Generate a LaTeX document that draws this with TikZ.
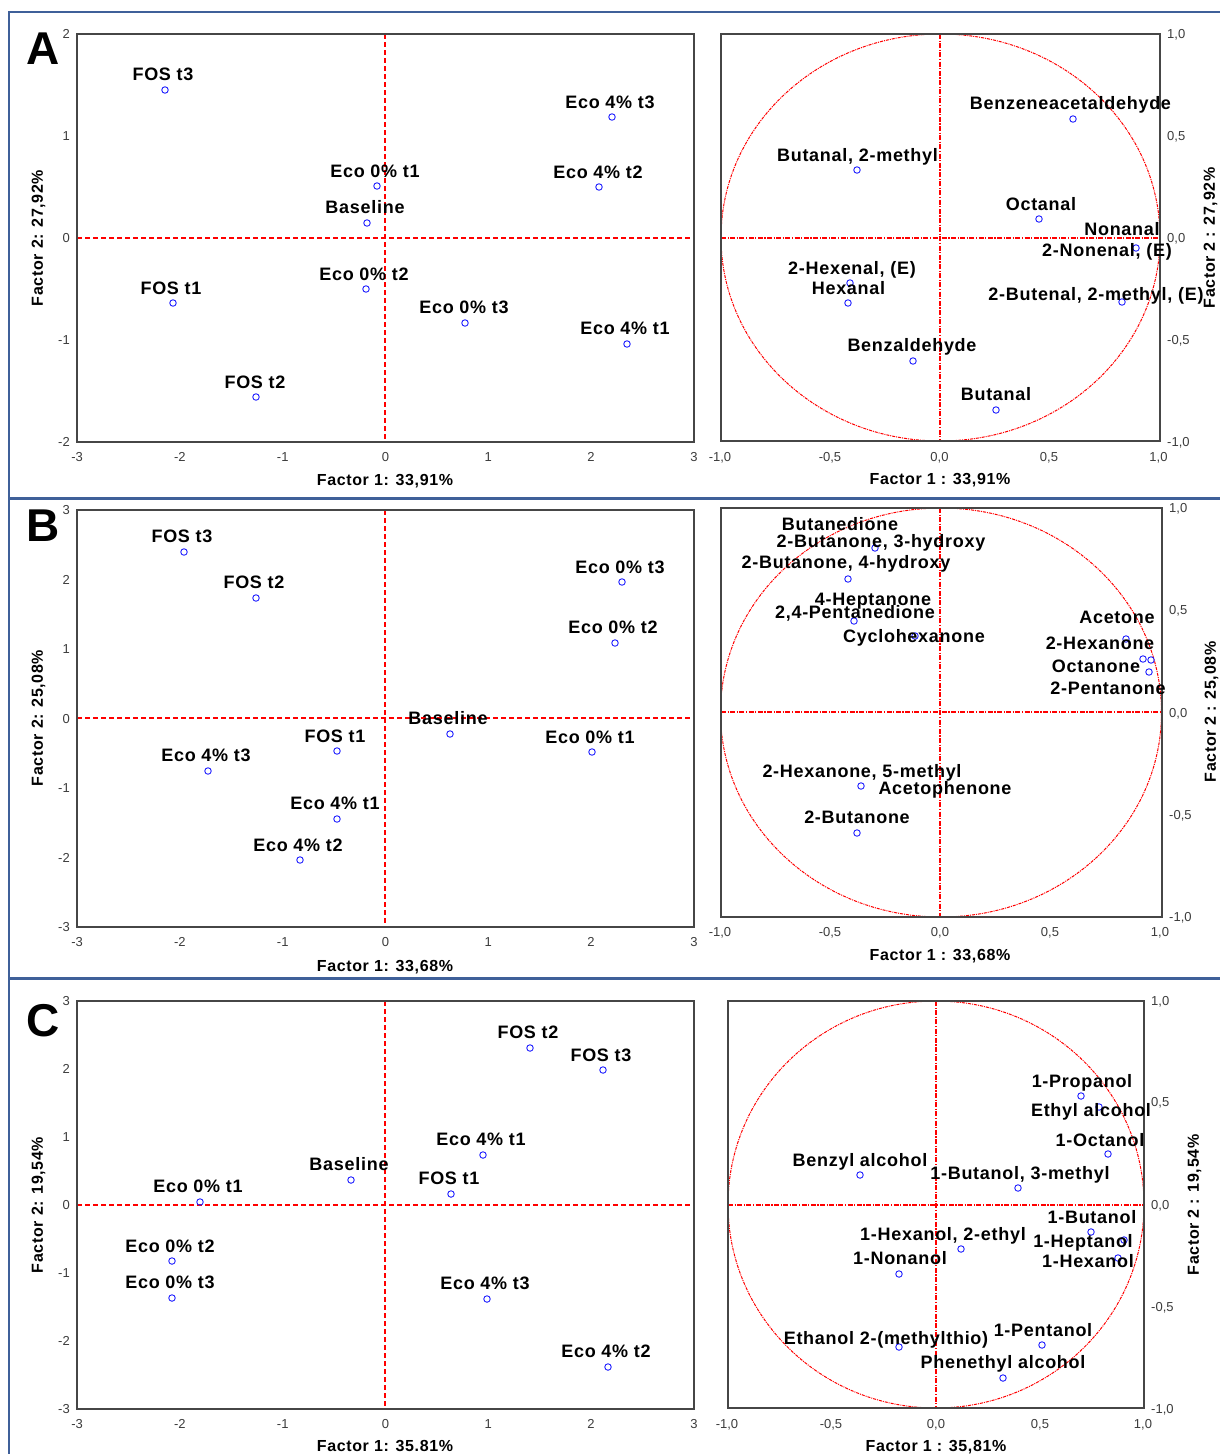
\documentclass[tikz,border=0pt]{standalone}
\usepackage{fontspec}
\setmainfont{Liberation Sans}
\newfontfamily\lblfont[LetterSpace=4]{Liberation Sans}
\definecolor{ptblue}{RGB}{30,30,255}
\definecolor{tickgray}{RGB}{60,60,60}
\definecolor{boxgray}{RGB}{70,70,70}
\definecolor{frameblue}{RGB}{63,96,153}
\definecolor{axisred}{RGB}{255,0,0}
\begin{document}
\begin{tikzpicture}[x=1pt,y=-1pt,
  pt/.style={circle,draw=ptblue,line width=0.9pt,inner sep=0pt,minimum size=6.5pt},
  lbl/.style={font=\lblfont\bfseries\fontsize{18}{20}\selectfont,inner sep=0pt,text height=13pt,text depth=0pt},
  tk/.style={font=\fontsize{13}{15}\selectfont,text=tickgray,inner sep=0pt,text height=9.3pt,text depth=0pt},
  axt/.style={font=\lblfont\bfseries\fontsize{16}{18}\selectfont,inner sep=0pt,text height=11.5pt,text depth=0pt},
  plotbox/.style={draw=boxgray,line width=1.3pt},
  zeroline/.style={draw=axisred,line width=1.5pt,dash pattern=on 5pt off 3pt},
  corrline/.style={draw=axisred,line width=1.5pt,dash pattern=on 5pt off 1.5pt on 1.2pt off 1.5pt},
  unitcircle/.style={draw=axisred,line width=1pt,dash pattern=on 3pt off 1pt on 1pt off 1pt},
  panelletter/.style={font=\bfseries\fontsize{46}{50}\selectfont,inner sep=0pt},
  rule/.style={draw=frameblue,line width=3pt}
]
\useasboundingbox[fill=white] (0,0) rectangle (1219,1454);

% ---------- outer frame and row separators ----------
\draw[rule,line width=2pt] (9,1460) -- (9,12) -- (1225,12);
\draw[rule] (9,498) -- (1225,498);
\draw[rule] (9,978) -- (1225,978);

\node[panelletter] (letA) at (43,49) {A};
\node[panelletter] (letB) at (43,526) {B};
\node[panelletter] (letC) at (43,1021) {C};

% =====================================================
% Row A
% =====================================================
% scores plot
\draw[zeroline] (385,34) -- (385,442);
\draw[zeroline] (77,238) -- (694,238);
\draw[plotbox] (77,34) rectangle (694,442);
\foreach \v/\yy [count=\i] in {2/34,1/136,0/238,-1/340,-2/442}
  \node[tk,anchor=east] (tAy\i) at (70,\yy) {\v};
\foreach \v [count=\i] in {-3,-2,-1,0,1,2,3}
  \node[tk] (tAx\i) at ({385.5+102.8*\v},457) {\v};
\node[axt] (xtA) at (385,480) {Factor 1: 33,91\%};
\node[axt,rotate=90] (ytA) at (37,238) {Factor 2: 27,92\%};
\foreach \n/\px/\py/\lx/\ly/\t in {
  1/165/90/163/74/{FOS t3},
  2/612/117/610/102/{Eco 4\% t3},
  3/377/186/375/171/{Eco 0\% t1},
  4/599/187/598/172/{Eco 4\% t2},
  5/367/223/365/207/{Baseline},
  6/173/303/171/288/{FOS t1},
  7/366/289/364/274/{Eco 0\% t2},
  8/465/323/464/307/{Eco 0\% t3},
  9/627/344/625/328/{Eco 4\% t1},
  10/256/397/255/382/{FOS t2}}{
  \node[pt] (sA\n) at (\px,\py) {};
  \node[lbl] (sAl\n) at (\lx,\ly) {\t};
}

% loadings plot
\draw[unitcircle] (940.5,237.5) ellipse [x radius=219.5,y radius=203.5];
\draw[corrline] (940,34) -- (940,441);
\draw[corrline] (721,238) -- (1160,238);
\draw[plotbox] (721,34) rectangle (1160,441);
\foreach \t/\yy [count=\i] in {{1,0}/34,{0,5}/136,{0,0}/238,{-0,5}/340,{-1,0}/442}
  \node[tk,anchor=west] (vAy\i) at (1167,\yy) {\t};
\foreach \t/\xx [count=\i] in {{-1,0}/720,{-0,5}/830,{0,0}/939.5,{0,5}/1049,{1,0}/1158.5}
  \node[tk] (vAx\i) at (\xx,457) {\t};
\node[axt] (xvA) at (940,479) {Factor 1 : 33,91\%};
\node[axt,rotate=90] (yvA) at (1209,238) {Factor 2 : 27,92\%};
\foreach \n/\px/\py in {1/1073/119,2/857/170,3/1039/219,4/1136/248,5/1122/302,
  6/850/283,7/848/303,8/913/361,9/996/410}
  \node[pt] (vA\n) at (\px,\py) {};
\foreach \n/\lx/\ly/\t in {
  1/1070.5/103/{Benzeneacetaldehyde},
  2/857.5/155/{Butanal, 2-methyl},
  3/1041/204/{Octanal},
  4/1122/229/{Nonanal},
  5/1107/250/{2-Nonenal, (E)},
  6/1096/294/{2-Butenal, 2-methyl, (E)},
  7/852/268/{2-Hexenal, (E)},
  8/848.5/288/{Hexanal},
  9/912/345/{Benzaldehyde},
  10/996/394/{Butanal}}
  \node[lbl] (vAl\n) at (\lx,\ly) {\t};

% =====================================================
% Row B
% =====================================================
\draw[zeroline] (385,510) -- (385,927);
\draw[zeroline] (77,718) -- (694,718);
\draw[plotbox] (77,510) rectangle (694,927);
\foreach \v [count=\i] in {3,2,1,0,-1,-2,-3}
  \node[tk,anchor=east] (tBy\i) at (70,{718.5-69.5*\v}) {\v};
\foreach \v [count=\i] in {-3,-2,-1,0,1,2,3}
  \node[tk] (tBx\i) at ({385.5+102.8*\v},942) {\v};
\node[axt] (xtB) at (385,966) {Factor 1: 33,68\%};
\node[axt,rotate=90] (ytB) at (37,718) {Factor 2: 25,08\%};
\foreach \n/\px/\py/\lx/\ly/\t in {
  1/184/552/182/536/{FOS t3},
  2/256/598/254/582/{FOS t2},
  3/622/582/620/567/{Eco 0\% t3},
  4/615/643/613/627/{Eco 0\% t2},
  5/450/734/448/718/{Baseline},
  6/337/751/335/736/{FOS t1},
  7/592/752/590/737/{Eco 0\% t1},
  8/208/771/206/755/{Eco 4\% t3},
  9/337/819/335/803/{Eco 4\% t1},
  10/300/860/298/845/{Eco 4\% t2}}{
  \node[pt] (sB\n) at (\px,\py) {};
  \node[lbl] (sBl\n) at (\lx,\ly) {\t};
}

\draw[unitcircle] (941,712.5) ellipse [x radius=220.5,y radius=204.5];
\draw[corrline] (940,508) -- (940,917);
\draw[corrline] (721,712) -- (1162,712);
\draw[plotbox] (721,508) rectangle (1162,917);
\foreach \t/\yy [count=\i] in {{1,0}/508,{0,5}/610,{0,0}/713,{-0,5}/815,{-1,0}/917}
  \node[tk,anchor=west] (vBy\i) at (1169,\yy) {\t};
\foreach \t/\xx [count=\i] in {{-1,0}/720,{-0,5}/830,{0,0}/940,{0,5}/1050,{1,0}/1160}
  \node[tk] (vBx\i) at (\xx,932) {\t};
\node[axt] (xvB) at (940,955) {Factor 1 : 33,68\%};
\node[axt,rotate=90] (yvB) at (1210,712) {Factor 2 : 25,08\%};
\foreach \n/\px/\py in {1/875/548,2/848/579,3/854/621,4/915/636,5/1126/639,
  6/1143/659,7/1151/660,8/1149/672,9/861/786,10/857/833}
  \node[pt] (vB\n) at (\px,\py) {};
\foreach \n/\lx/\ly/\t in {
  1/840/524/{Butanedione},
  2/881/541/{2-Butanone, 3-hydroxy},
  3/846/562/{2-Butanone, 4-hydroxy},
  4/873/599/{4-Heptanone},
  5/855/612/{2,4-Pentanedione},
  6/914/636/{Cyclohexanone},
  7/1117/617/{Acetone},
  8/1100/643/{2-Hexanone},
  9/1096/666/{Octanone},
  10/1108/688/{2-Pentanone},
  11/862/771/{2-Hexanone, 5-methyl},
  12/945/788/{Acetophenone},
  13/857/817/{2-Butanone}}
  \node[lbl] (vBl\n) at (\lx,\ly) {\t};

% =====================================================
% Row C
% =====================================================
\draw[zeroline] (385,1001) -- (385,1409);
\draw[zeroline] (77,1205) -- (694,1205);
\draw[plotbox] (77,1001) rectangle (694,1409);
\foreach \v [count=\i] in {3,2,1,0,-1,-2,-3}
  \node[tk,anchor=east] (tCy\i) at (70,{1205-68*\v}) {\v};
\foreach \v [count=\i] in {-3,-2,-1,0,1,2,3}
  \node[tk] (tCx\i) at ({385.5+102.8*\v},1424) {\v};
\node[axt] (xtC) at (385,1446) {Factor 1: 35.81\%};
\node[axt,rotate=90] (ytC) at (37,1205) {Factor 2: 19,54\%};
\foreach \n/\px/\py/\lx/\ly/\t in {
  1/530/1048/528/1032/{FOS t2},
  2/603/1070/601/1055/{FOS t3},
  3/483/1155/481/1139/{Eco 4\% t1},
  4/351/1180/349/1164/{Baseline},
  5/451/1194/449/1178/{FOS t1},
  6/200/1202/198/1186/{Eco 0\% t1},
  7/172/1261/170/1246/{Eco 0\% t2},
  8/172/1298/170/1282/{Eco 0\% t3},
  9/487/1299/485/1283/{Eco 4\% t3},
  10/608/1367/606/1351/{Eco 4\% t2}}{
  \node[pt] (sC\n) at (\px,\py) {};
  \node[lbl] (sCl\n) at (\lx,\ly) {\t};
}

\draw[unitcircle] (936,1204.5) ellipse [x radius=208,y radius=203.5];
\draw[corrline] (936,1001) -- (936,1408);
\draw[corrline] (728,1205) -- (1144,1205);
\draw[plotbox] (728,1001) rectangle (1144,1408);
\foreach \t/\yy [count=\i] in {{1,0}/1001,{0,5}/1102,{0,0}/1205,{-0,5}/1307,{-1,0}/1409}
  \node[tk,anchor=west] (vCy\i) at (1151,\yy) {\t};
\foreach \t/\xx [count=\i] in {{-1,0}/727,{-0,5}/831,{0,0}/936,{0,5}/1040,{1,0}/1143}
  \node[tk] (vCx\i) at (\xx,1424) {\t};
\node[axt] (xvC) at (936,1446) {Factor 1 : 35,81\%};
\node[axt,rotate=90] (yvC) at (1193,1205) {Factor 2 : 19,54\%};
\foreach \n/\px/\py in {1/1081/1096,2/1099/1107,3/1108/1154,4/1018/1188,5/860/1175,
  6/1091/1232,7/1124/1240,8/1118/1258,9/961/1249,10/899/1274,11/899/1347,
  12/1042/1345,13/1003/1378}
  \node[pt] (vC\n) at (\px,\py) {};
\foreach \n/\lx/\ly/\t in {
  1/1082/1081/{1-Propanol},
  2/1091/1110/{Ethyl alcohol},
  3/1100/1140/{1-Octanol},
  4/1020/1173/{1-Butanol, 3-methyl},
  5/860/1160/{Benzyl alcohol},
  6/1092/1217/{1-Butanol},
  7/1083/1241/{1-Heptanol},
  8/1088/1261/{1-Hexanol},
  9/943/1234/{1-Hexanol, 2-ethyl},
  10/900/1258/{1-Nonanol},
  11/886/1338/{Ethanol 2-(methylthio)},
  12/1043/1330/{1-Pentanol},
  13/1003/1362/{Phenethyl alcohol}}
  \node[lbl] (vCl\n) at (\lx,\ly) {\t};
\end{tikzpicture}
\end{document}
